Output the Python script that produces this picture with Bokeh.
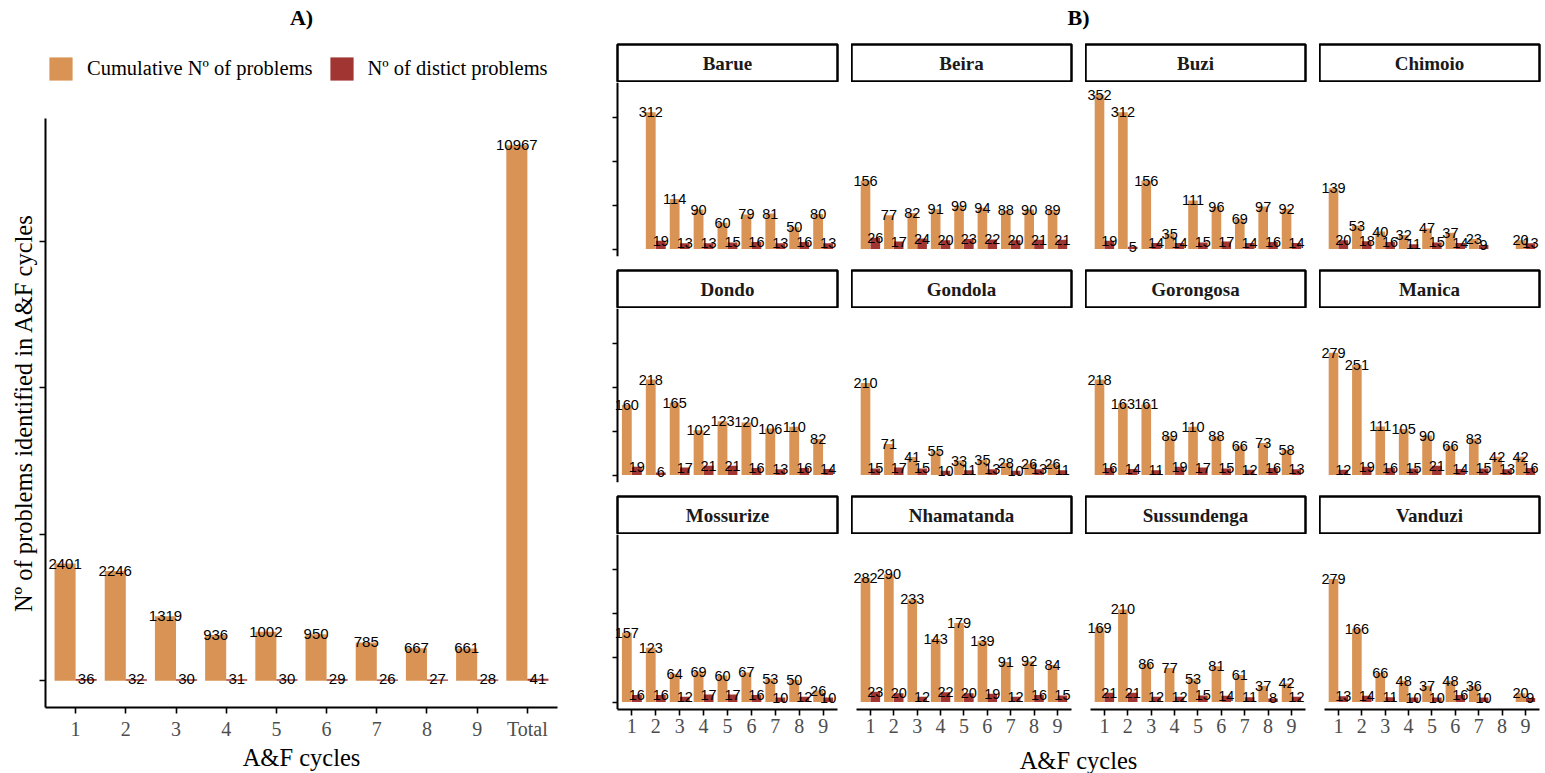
from bokeh.plotting import figure
from bokeh.models import ColumnDataSource, Range1d, FixedTicker, Legend, LegendItem
from bokeh.layouts import row, column
from bokeh.transform import dodge
from bokeh.core.properties import value
from bokeh.embed import file_html
from bokeh.resources import INLINE

# ---------------- data: panel A ----------------
cycles_total = ["1", "2", "3", "4", "5", "6", "7", "8", "9", "Total"]
cumulative_total = [2401, 2246, 1319, 936, 1002, 950, 785, 667, 661, 10967]
distinct_total = [36, 32, 30, 31, 30, 29, 26, 27, 28, 41]

# ---------------- data: panel B ----------------
district_names = ["Barue", "Beira", "Buzi", "Chimoio", "Dondo", "Gondola",
                  "Gorongosa", "Manica", "Mossurize", "Nhamatanda", "Sussundenga", "Vanduzi"]
facet_cycles = [1, 2, 3, 4, 5, 6, 7, 8, 9]

barue_cycles = [2, 3, 4, 5, 6, 7, 8, 9]
barue_cum = [312, 114, 90, 60, 79, 81, 50, 80]
barue_dist = [19, 13, 13, 15, 16, 13, 16, 13]

beira_cycles = [1, 2, 3, 4, 5, 6, 7, 8, 9]
beira_cum = [156, 77, 82, 91, 99, 94, 88, 90, 89]
beira_dist = [26, 17, 24, 20, 23, 22, 20, 21, 21]

buzi_cycles = [1, 2, 3, 4, 5, 6, 7, 8, 9]
buzi_cum = [352, 312, 156, 35, 111, 96, 69, 97, 92]
buzi_dist = [19, 5, 14, 14, 15, 17, 14, 16, 14]

chimoio_cycles = [1, 2, 3, 4, 5, 6, 7, 9]
chimoio_cum = [139, 53, 40, 32, 47, 37, 23, 20]
chimoio_dist = [20, 18, 16, 11, 15, 14, 9, 13]

dondo_cycles = [1, 2, 3, 4, 5, 6, 7, 8, 9]
dondo_cum = [160, 218, 165, 102, 123, 120, 106, 110, 82]
dondo_dist = [19, 6, 17, 21, 21, 16, 13, 16, 14]

gondola_cycles = [1, 2, 3, 4, 5, 6, 7, 8, 9]
gondola_cum = [210, 71, 41, 55, 33, 35, 28, 26, 26]
gondola_dist = [15, 17, 15, 10, 11, 13, 10, 13, 11]

gorongosa_cycles = [1, 2, 3, 4, 5, 6, 7, 8, 9]
gorongosa_cum = [218, 163, 161, 89, 110, 88, 66, 73, 58]
gorongosa_dist = [16, 14, 11, 19, 17, 15, 12, 16, 13]

manica_cycles = [1, 2, 3, 4, 5, 6, 7, 8, 9]
manica_cum = [279, 251, 111, 105, 90, 66, 83, 42, 42]
manica_dist = [12, 19, 16, 15, 21, 14, 15, 13, 16]

mossurize_cycles = [1, 2, 3, 4, 5, 6, 7, 8, 9]
mossurize_cum = [157, 123, 64, 69, 60, 67, 53, 50, 26]
mossurize_dist = [16, 16, 12, 17, 17, 16, 10, 12, 10]

nhamatanda_cycles = [1, 2, 3, 4, 5, 6, 7, 8, 9]
nhamatanda_cum = [282, 290, 233, 143, 179, 139, 91, 92, 84]
nhamatanda_dist = [23, 20, 12, 22, 20, 19, 12, 16, 15]

sussundenga_cycles = [1, 2, 3, 4, 5, 6, 7, 8, 9]
sussundenga_cum = [169, 210, 86, 77, 53, 81, 61, 37, 42]
sussundenga_dist = [21, 21, 12, 12, 15, 14, 11, 8, 12]

vanduzi_cycles = [1, 2, 3, 4, 5, 6, 7, 9]
vanduzi_cum = [279, 166, 66, 48, 37, 48, 36, 20]
vanduzi_dist = [13, 14, 11, 10, 10, 16, 10, 9]

facet_data = [
    (barue_cycles, barue_cum, barue_dist),
    (beira_cycles, beira_cum, beira_dist),
    (buzi_cycles, buzi_cum, buzi_dist),
    (chimoio_cycles, chimoio_cum, chimoio_dist),
    (dondo_cycles, dondo_cum, dondo_dist),
    (gondola_cycles, gondola_cum, gondola_dist),
    (gorongosa_cycles, gorongosa_cum, gorongosa_dist),
    (manica_cycles, manica_cum, manica_dist),
    (mossurize_cycles, mossurize_cum, mossurize_dist),
    (nhamatanda_cycles, nhamatanda_cum, nhamatanda_dist),
    (sussundenga_cycles, sussundenga_cum, sussundenga_dist),
    (vanduzi_cycles, vanduzi_cum, vanduzi_dist),
]

legend_labels = ["Cumulative Nº of problems", "Nº of distict problems"]

ORANGE = "#D99455"
RED = "#A13532"
SERIF = "Liberation Serif"
SANS = "Liberation Sans"
TICK_GREY = "#4D4D4D"
BW = 0.42
OFF = 0.21
AXIS_TITLE_SIZE = "24.5px"


def clean(p):
    p.xgrid.visible = False
    p.ygrid.visible = False
    p.background_fill_color = "white"
    p.border_fill_color = "white"
    p.outline_line_color = None


def style_axis(ax):
    ax.axis_line_color = "black"
    ax.axis_line_width = 2
    ax.major_tick_line_color = "black"
    ax.major_tick_line_width = 1.6
    ax.major_tick_out = 6
    ax.major_tick_in = 0
    ax.minor_tick_line_color = None
    ax.major_label_text_font = SERIF
    ax.major_label_text_font_size = "20px"
    ax.major_label_text_color = TICK_GREY
    ax.axis_label_text_font = SERIF
    ax.axis_label_text_font_style = "normal"
    ax.axis_label_text_font_size = AXIS_TITLE_SIZE
    ax.axis_label_text_color = "black"


def style_title(t, bold=True, size="22px"):
    t.text_font = SERIF
    t.text_font_style = "bold" if bold else "normal"
    t.text_font_size = size
    t.text_color = "black"
    t.align = "center"


# ---------------- panel A ----------------
xa = list(range(1, len(cycles_total) + 1))
src_a = ColumnDataSource(dict(
    x=xa, cum=cumulative_total, dist=distinct_total,
    cum_lbl=[str(v) for v in cumulative_total],
    dist_lbl=[str(v) for v in distinct_total],
))
xr_a = Range1d(0.4, len(cycles_total) + 0.6)

# header of panel A: title + legend (legend glyphs only, the marks are hidden)
A_HEAD = 118
head_a = figure(width=585, height=A_HEAD, x_range=Range1d(0, 1), y_range=Range1d(-2, -1),
                x_axis_location=None, y_axis_location=None, toolbar_location=None,
                output_backend="svg", title="A)",
                min_border_left=45, min_border_right=28, min_border_top=0, min_border_bottom=0)
clean(head_a)
style_title(head_a.title)
head_a.title.standoff = 4
lr1 = head_a.vbar(x=dodge("x", -OFF), top="cum", width=BW, source=src_a,
                  fill_color=ORANGE, line_color=None, visible=False)
lr2 = head_a.vbar(x=dodge("x", OFF), top="dist", width=BW, source=src_a,
                  fill_color=RED, line_color=None, visible=False)
legend = Legend(items=[LegendItem(label=legend_labels[0], renderers=[lr1]),
                       LegendItem(label=legend_labels[1], renderers=[lr2])],
                orientation="horizontal", location=(1, 35))
legend.label_text_font = SERIF
legend.label_text_font_size = "20.5px"
legend.label_text_color = "black"
legend.glyph_width = 29
legend.glyph_height = 29
legend.label_standoff = 12
legend.spacing = 14
legend.padding = 0
legend.margin = 0
legend.border_line_color = None
legend.background_fill_alpha = 0
legend.inactive_fill_alpha = 0
head_a.add_layout(legend, "center")

# main plot of panel A
pa = figure(width=585, height=773 - A_HEAD, x_range=xr_a,
            y_range=Range1d(-548, 11515), toolbar_location=None, output_backend="svg",
            min_border_left=45, min_border_right=28, min_border_top=0, min_border_bottom=64)
clean(pa)
pa.vbar(x=dodge("x", -OFF), top="cum", width=BW, source=src_a, fill_color=ORANGE, line_color=None)
pa.vbar(x=dodge("x", OFF), top="dist", width=BW, source=src_a, fill_color=RED, line_color=None)
pa.text(x=dodge("x", -OFF), y="cum", text="cum_lbl", source=src_a, text_align="center",
        text_baseline="alphabetic", text_font=value(SANS), text_font_size="15px", text_color="black")
pa.text(x=dodge("x", OFF), y="dist", text="dist_lbl", source=src_a, text_align="center",
        text_baseline="alphabetic", text_font=value(SANS), text_font_size="15px", text_color="black")

pa.xaxis.ticker = FixedTicker(ticks=xa)
pa.xaxis.major_label_overrides = {x: lab for x, lab in zip(xa, cycles_total)}
pa.xaxis.axis_label = "A&F cycles"
pa.xaxis.axis_label_standoff = 1
pa.xaxis.major_label_standoff = 4
ya_ticks = [0, 3000, 6000, 9000]
pa.yaxis.ticker = FixedTicker(ticks=ya_ticks)
pa.yaxis.major_label_overrides = {t: "" for t in ya_ticks}
pa.yaxis.axis_label = "Nº of problems identified in A&F cycles"
pa.yaxis.axis_label_standoff = 3
style_axis(pa.xaxis[0])
style_axis(pa.yaxis[0])

col_a = column(head_a, pa)

# ---------------- panel B ----------------
B_WIDTH = 960
header = figure(width=B_WIDTH, height=43, x_axis_location=None, y_axis_location=None,
                toolbar_location=None, output_backend="svg", title="B)",
                min_border_left=32, min_border_right=6, min_border_top=0, min_border_bottom=0)
clean(header)
style_title(header.title)
header.title.standoff = 4

SCALE = 220 / 9.2      # px per cycle unit in a facet
EXT = 5                # extra px on the left of each facet frame so labels are not cut
rows = [header]
for ri in range(3):
    strips = []
    panels = []
    for ci in range(4):
        k = ri * 4 + ci
        name = district_names[k]
        cyc, cum, dist = facet_data[k]
        left = 32 if ci == 0 else 0
        right = 6 if ci == 3 else 14
        w = left + 220 + right

        s = figure(width=w, height=39, x_range=Range1d(0, 1), y_range=Range1d(0, 1),
                   x_axis_location=None, y_axis_location=None, toolbar_location=None,
                   output_backend="svg", min_border_left=left, min_border_right=right,
                   min_border_top=1, min_border_bottom=1)
        clean(s)
        s.outline_line_color = "black"
        s.outline_line_width = 2.5
        s.text(x=[0.5], y=[0.5], text=[name], text_align="center", text_baseline="middle",
               text_font=value(SERIF), text_font_style="bold", text_font_size="19px",
               text_color="#1A1A1A")
        strips.append(s)

        bottom_row = ri == 2
        h = 210 if bottom_row else 187
        mb = 35 if bottom_row else 13
        x0 = 0.4 - EXT / SCALE
        p = figure(width=w, height=h, x_range=Range1d(x0, 9.6), y_range=Range1d(-17, 380),
                   x_axis_location="below" if bottom_row else None,
                   y_axis_location="left" if ci == 0 else None,
                   toolbar_location=None, output_backend="svg",
                   min_border_left=left - EXT, min_border_right=right, min_border_top=0,
                   min_border_bottom=mb)
        clean(p)
        src = ColumnDataSource(dict(x=cyc, cum=cum, dist=dist,
                                    cum_lbl=[str(v) for v in cum],
                                    dist_lbl=[str(v) for v in dist]))
        p.vbar(x=dodge("x", -OFF), top="cum", width=BW * 0.98, source=src, fill_color=ORANGE, line_color=None)
        p.vbar(x=dodge("x", OFF), top="dist", width=BW * 0.98, source=src, fill_color=RED, line_color=None)
        p.text(x=dodge("x", -OFF), y="cum", text="cum_lbl", source=src, text_align="center",
               text_baseline="alphabetic", text_font=value(SANS), text_font_size="14.5px", text_color="black")
        p.text(x=dodge("x", OFF), y="dist", text="dist_lbl", source=src, text_align="center",
               text_baseline="alphabetic", text_font=value(SANS), text_font_size="14.5px", text_color="black")
        if bottom_row:
            p.xaxis.ticker = FixedTicker(ticks=facet_cycles)
            p.xaxis.major_label_standoff = 3
            p.xaxis.bounds = (0.4, 9.6)
            style_axis(p.xaxis[0])
        if ci == 0:
            yt = [0, 100, 200, 300]
            p.yaxis.ticker = FixedTicker(ticks=yt)
            p.yaxis.major_label_overrides = {t: "" for t in yt}
            p.yaxis.fixed_location = 0.4
            style_axis(p.yaxis[0])
        panels.append(p)
    rows.append(row(*strips))
    rows.append(row(*panels))

footer = figure(width=B_WIDTH, height=29, x_axis_location=None, y_axis_location=None,
                toolbar_location=None, output_backend="svg", title="A&F cycles",
                min_border_left=32, min_border_right=6, min_border_top=0, min_border_bottom=0)
clean(footer)
style_title(footer.title, bold=False, size=AXIS_TITLE_SIZE)
footer.title.standoff = 0
rows.append(footer)

layout = row(col_a, column(*rows))
open("out.html", "w").write(file_html(layout, INLINE))
